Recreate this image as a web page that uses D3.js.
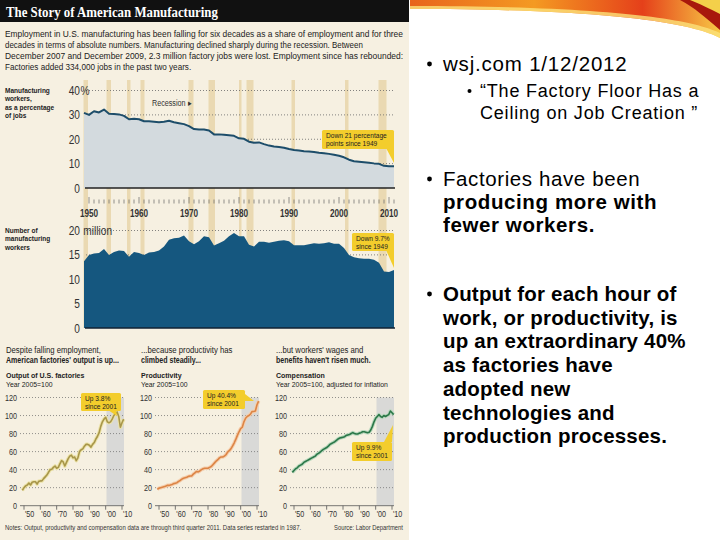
<!DOCTYPE html>
<html>
<head>
<meta charset="utf-8">
<script src="https://cdn.jsdelivr.net/npm/d3@7"></script>
<style>
  body { margin: 0; background: #fff; }
  svg { display: block; }
</style>
</head>
<body>
<svg id="slide" width="720" height="540"></svg>
<script>
// ---- data (yearly, 1949-2011) ----
const years = d3.range(1949, 2012);

const sharePct = [30.8, 30.0, 31.5, 31.0, 32.2, 30.5, 30.4, 30.2, 29.6, 28.2,
    28.4, 28.2, 27.4, 27.4, 27.2, 27.0, 27.2, 27.6, 27.0, 26.6,
    26.2, 25.4, 24.2, 24.0, 24.0, 23.6, 22.0, 22.0, 21.8, 21.6,
    21.4, 20.4, 20.2, 19.0, 18.6, 18.7, 18.0, 17.4, 17.0, 16.8,
    16.5, 16.0, 15.6, 15.4, 15.1, 15.0, 14.8, 14.5, 14.3, 14.0,
    13.6, 13.2, 12.6, 11.6, 11.0, 10.8, 10.6, 10.4, 10.1, 9.9,
    9.1, 8.9, 8.9];

const workersMil = [13.7, 15.0, 15.3, 15.4, 16.2, 15.0, 15.6, 15.9, 15.8, 14.6,
    15.6, 15.4, 15.0, 15.5, 15.6, 15.9, 16.7, 18.1, 18.4, 18.5,
    19.0, 17.8, 17.2, 17.8, 18.8, 18.6, 16.9, 17.4, 17.9, 18.8,
    19.5, 18.8, 18.8, 17.1, 16.7, 17.7, 17.7, 17.5, 17.7, 17.9,
    18.0, 17.8, 17.0, 17.0, 17.0, 17.2, 17.4, 17.3, 17.4, 17.6,
    17.3, 17.3, 16.4, 15.0, 14.5, 14.3, 14.2, 14.2, 14.0, 13.4,
    11.6, 11.5, 11.9];

const outputIdx = [17, 20, 22, 23, 25, 23, 26, 26.5, 26.5, 24,
    27, 27.5, 27.5, 30, 32, 34, 37, 40, 40.5, 42.5,
    44, 41.5, 42.5, 46.5, 50, 48.5, 44, 48, 52, 55,
    56, 53, 54, 50, 53, 60, 62, 63, 66, 68,
    68, 67, 65, 68, 70, 74, 77, 81, 88, 93,
    96, 98, 93, 92, 93, 96, 100, 102, 104, 99,
    87, 92, 96];

const productivityIdx = [18, 19.5, 20, 20.5, 21, 21.5, 22.5, 22.5, 23, 23.5,
    24.5, 25, 25.5, 27, 28, 29.5, 30.5, 31, 31.5, 32.5,
    33, 33, 35, 36.5, 38, 37.5, 38.5, 40, 41, 41.5,
    41.5, 41.5, 42.5, 43.5, 45.5, 47.5, 49.5, 51, 53, 54,
    54, 55, 56.5, 59.5, 61, 63, 66, 69.5, 73.5, 78,
    82, 85.5, 87, 93, 97, 99, 100, 101.5, 104.5, 104.5,
    105, 112, 116];

const compensationIdx = [37, 39, 41, 42, 44, 45, 46, 48, 49, 50,
    51, 52, 53, 54, 55, 57, 58, 59.5, 61, 62.5,
    63.5, 64.5, 66, 68, 69, 70, 71, 72.5, 74, 75,
    75.5, 76, 76.5, 78, 78.5, 79, 80, 81, 80, 79.5,
    79.5, 80.5, 81, 82, 82, 81.5, 81, 81.5, 84, 88,
    93, 97, 99, 101, 99, 98, 100, 99, 100, 101,
    105, 103, 101];

const recessions = [[1948.9, 1949.8], [1953.5, 1954.4], [1957.6, 1958.3], [1960.3, 1961.1],
    [1969.9, 1970.9], [1973.9, 1975.2], [1980.0, 1980.5], [1981.5, 1982.9],
    [1990.5, 1991.2], [2001.2, 2001.9], [2007.9, 2009.5]];

const topTicks = [0, 10, 20, 30, 40];
const midTicks = [0, 5, 10, 15, 20];
const smallTicks = [0, 20, 40, 60, 80, 100, 120];
const decades = [1950, 1960, 1970, 1980, 1990, 2000, 2010];

const introLines = [
    "Employment in U.S. manufacturing has been falling for six decades as a share of employment and for three",
    "decades in terms of absolute numbers. Manufacturing declined sharply during the recession. Between",
    "December 2007 and December 2009, 2.3 million factory jobs were lost. Employment since has rebounded:",
    "Factories added 334,000 jobs in the past two years."
];

const sans = "'Liberation Sans', Arial, sans-serif";
const svg = d3.select("#slide");

// condensed look: Liberation Sans squeezed horizontally
function nt(parent, x, y, str, size, opts) {
    opts = opts || {};
    let k = opts.k || 0.8;
    let t = parent.append("text")
        .attr("transform", "translate(" + x + "," + y + ") scale(" + k + ",1)")
        .attr("font-family", opts.family || sans)
        .attr("font-size", size)
        .attr("font-weight", opts.bold ? "bold" : "normal")
        .attr("text-anchor", opts.anchor || "start")
        .attr("fill", opts.fill || "#222")
        .text(str);
    if (opts.width) {
        // squeeze to a measured width instead of a fixed ratio
        let w = t.node().getComputedTextLength();
        t.attr("transform", "translate(" + x + "," + y + ") scale(" + (opts.width / w) + ",1)");
    }
    return t;
}

// ---- slide background + decoration ----
svg.append("rect").attr("width", 720).attr("height", 540).attr("fill", "#fff");

let defs = svg.append("defs");
let grad = defs.append("linearGradient").attr("id", "swoosh")
    .attr("x1", "0%").attr("x2", "100%").attr("y1", "0%").attr("y2", "0%");
grad.append("stop").attr("offset", "0%").attr("stop-color", "#e8641c");
grad.append("stop").attr("offset", "40%").attr("stop-color", "#f49a22");
grad.append("stop").attr("offset", "75%").attr("stop-color", "#e5401a");
grad.append("stop").attr("offset", "100%").attr("stop-color", "#f7c845");

svg.append("path").attr("d", "M410,0 L720,0 L720,38 C690,22 600,9 410,9 Z").attr("fill", "url(#swoosh)");
svg.append("path").attr("d", "M410,9 C600,9 690,22 720,38 L720,33 C690,18 600,6 410,6 Z").attr("fill", "#fbe27a").attr("opacity", 0.8);
svg.append("path").attr("d", "M680,0 L720,0 L720,30 C705,17 695,8 680,0 Z").attr("fill", "#a8180c");
svg.append("path").attr("d", "M690,0 L720,0 L720,14 C708,8 700,4 690,0 Z").attr("fill", "#f4d04a");

// ---- left graphic panel ----
svg.append("rect").attr("x", 0).attr("y", 0).attr("width", 409).attr("height", 540).attr("fill", "#f6f0e1");
svg.append("rect").attr("x", 0).attr("y", 0).attr("width", 409).attr("height", 22).attr("fill", "#111");
nt(svg, 6, 17, "The Story of American Manufacturing", 14.5,
    { bold: true, fill: "#fff", family: "'Liberation Serif', 'DejaVu Serif', serif", width: 212 });

const introWidths = [398, 358, 398, 186];
let intro = svg.append("g");
introLines.forEach((s, i) => nt(intro, 5, 37 + i * 11, s, 9.8, { width: introWidths[i] }));

// ---- top two charts share the time scale ----
let x = d3.scaleLinear().domain([1949, 2011.2]).range([84, 395]);
let yTop = d3.scaleLinear().domain([0, 40]).range([188, 90.5]);
let yMid = d3.scaleLinear().domain([0, 20]).range([328, 230.5]);

svg.append("g").selectAll("rect").data(recessions).join("rect")
    .attr("x", d => x(d[0])).attr("width", d => x(d[1]) - x(d[0]))
    .attr("y", 80).attr("height", 248)
    .attr("fill", "#ead9b2");

function gridLines(scale, ticks) {
    svg.append("g").selectAll("line").data(ticks.filter(t => t > 0)).join("line")
        .attr("x1", 86).attr("x2", 395)
        .attr("y1", d => scale(d)).attr("y2", d => scale(d))
        .attr("stroke", "#666").attr("stroke-width", 0.8).attr("stroke-dasharray", "1,2");
}
gridLines(yTop, topTicks);
gridLines(yMid, midTicks);

// top: share of jobs
let shareArea = d3.area().x((d, i) => x(years[i])).y0(yTop(0)).y1(d => yTop(d));
let shareLine = d3.line().x((d, i) => x(years[i])).y(d => yTop(d));
svg.append("path").datum(sharePct).attr("d", shareArea).attr("fill", "#d3dade");
svg.append("path").datum(sharePct).attr("d", shareLine)
    .attr("fill", "none").attr("stroke", "#1d4d6a").attr("stroke-width", 2).attr("stroke-linejoin", "round");
svg.append("line").attr("x1", 85).attr("x2", 395).attr("y1", yTop(0)).attr("y2", yTop(0))
    .attr("stroke", "#222").attr("stroke-width", 1.4);

// middle: number of workers
let workArea = d3.area().x((d, i) => x(years[i])).y0(yMid(0)).y1(d => yMid(d));
svg.append("path").datum(workersMil).attr("d", workArea).attr("fill", "#15577f");
svg.append("line").attr("x1", 85).attr("x2", 395).attr("y1", yMid(0)).attr("y2", yMid(0))
    .attr("stroke", "#112233").attr("stroke-width", 1.4);

// y labels
function yLabels(scale, ticks, unit) {
    let g = svg.append("g");
    ticks.forEach(t => {
        nt(g, 80, scale(t) + 4.5, String(t), 13, { anchor: "end", fill: "#333", k: 0.78 });
    });
    nt(g, 80.5, scale(ticks[ticks.length - 1]) + 4.5, unit, 13, { fill: "#333", k: 0.78 });
}
yLabels(yTop, topTicks, "%");
yLabels(yMid, midTicks, "\u00A0million");

// year axis under the top chart
let yearTicks = d3.range(1950, 2012);
svg.append("g").selectAll("line").data(yearTicks).join("line")
    .attr("x1", d => x(d)).attr("x2", d => x(d))
    .attr("y1", d => d % 10 === 0 ? 197 : 199.5).attr("y2", 203.5)
    .attr("stroke", "#666").attr("stroke-width", 0.7);
let axisLabels = svg.append("g");
decades.forEach(d => nt(axisLabels, x(d), 216.5, String(d), 10, { anchor: "middle", bold: true, fill: "#333", k: 0.82 }));

// side labels
function sideLabel(lines, y0) {
    let g = svg.append("g");
    lines.forEach((s, i) => nt(g, 5, y0 + i * 8.3, s, 7.4, { bold: true, k: 0.88 }));
}
sideLabel(["Manufacturing", "workers,", "as a percentage", "of jobs"], 93);
sideLabel(["Number of", "manufacturing", "workers"], 233);

nt(svg, 152, 106, "Recession \u25B8", 9, { fill: "#333", k: 0.8 });

// yellow callouts
function callout(bx, by, bw, bh, tail, lines) {
    svg.append("path").attr("d", tail).attr("fill", "#f3cd2c");
    svg.append("rect").attr("x", bx).attr("y", by).attr("width", bw).attr("height", bh)
        .attr("rx", 1.5).attr("fill", "#f3cd2c");
    let g = svg.append("g");
    lines.forEach((s, i) => nt(g, bx + 4, by + 8 + i * 8.4, s, 7.5, { k: 0.88 }));
}
callout(322, 130, 72, 19, "M386,148 L394,148 L394,163 Z", ["Down 21 percentage", "points since 1949"]);
callout(352, 233, 42, 18, "M386,250 L394,250 L394,268 Z", ["Down 9.7%", "since 1949"]);

// ---- three small charts ----
function smallChart(ox, values, color, halo, head1, head2, title, sub, note, noteBox) {
    let xs = d3.scaleLinear().domain([1950, 2010]).range([ox + 24, ox + 122]);
    let ys = d3.scaleLinear().domain([0, 120]).range([505.7, 397.5]);
    let g = svg.append("g");

    g.append("rect").attr("x", xs(2000.5)).attr("y", ys(120)).attr("width", ox + 124 - xs(2000.5))
        .attr("height", ys(0) - ys(120)).attr("fill", "#d9d9d7");

    g.append("g").selectAll("line").data(smallTicks.filter(t => t > 0)).join("line")
        .attr("x1", ox + 20).attr("x2", ox + 124)
        .attr("y1", d => ys(d)).attr("y2", d => ys(d))
        .attr("stroke", "#666").attr("stroke-width", 0.7).attr("stroke-dasharray", "1,2");

    smallTicks.forEach(t => nt(g, ox + 17, ys(t) + 3, String(t), 9, { anchor: "end", fill: "#333", k: 0.8 }));

    g.append("line").attr("x1", ox + 20).attr("x2", ox + 124).attr("y1", ys(0)).attr("y2", ys(0))
        .attr("stroke", "#555").attr("stroke-width", 0.8);
    g.append("g").selectAll("line").data(decades).join("line")
        .attr("x1", d => xs(d)).attr("x2", d => xs(d)).attr("y1", ys(0)).attr("y2", ys(0) + 4)
        .attr("stroke", "#555").attr("stroke-width", 0.8);
    decades.forEach(d => nt(g, xs(d) + 1, 517, "'" + String(d).slice(2), 9, { fill: "#333", k: 0.8 }));

    let line = d3.line().x((d, i) => xs(years[i])).y(d => ys(d));
    g.append("path").datum(values).attr("d", line).attr("fill", "none")
        .attr("stroke", halo).attr("stroke-width", 3.6).attr("stroke-linejoin", "round");
    g.append("path").datum(values).attr("d", line).attr("fill", "none")
        .attr("stroke", color).attr("stroke-width", 1.6).attr("stroke-linejoin", "round");

    nt(g, ox + 6, 353, head1, 8.8, { k: 0.88 });
    nt(g, ox + 6, 363, head2, 8.8, { bold: true, k: 0.8 });
    nt(g, ox + 6, 377.5, title, 8, { bold: true, k: 0.88 });
    nt(g, ox + 6, 386.5, sub, 8, { k: 0.86 });

    callout(noteBox[0], noteBox[1], noteBox[2], noteBox[3], noteBox[4], note);
}

smallChart(0, outputIdx, "#a8964a", "#ece3a8",
    "Despite falling employment,", "American factories' output is up...",
    "Output of U.S. factories", "Year 2005=100",
    ["Up 3.8%", "since 2001"], [81, 393, 40, 18, "M108,410 L116,410 L117,416 Z"]);
smallChart(135, productivityIdx, "#dc8546", "#f5cfae",
    "...because productivity has", "climbed steadily...",
    "Productivity", "Year 2005=100",
    ["Up 40.4%", "since 2001"], [203, 390, 42, 19, "M245,394 L245,401 L254,401 Z"]);
smallChart(270, compensationIdx, "#2b7748", "#b9d8bd",
    "...but workers' wages and", "benefits haven't risen much.",
    "Compensation", "Year 2005=100, adjusted for inflation",
    ["Up 9.9%", "since 2001"], [352, 442, 40, 19, "M384,442 L392,442 L393,425 Z"]);

let foot = svg.append("g");
nt(foot, 5, 530, "Notes: Output, productivity and compensation data are through third quarter 2011. Data series restarted in 1987.",
    7, { fill: "#333", width: 296 });
nt(foot, 334, 530, "Source: Labor Department", 7, { fill: "#333", width: 69 });

// ---- slide text on the right ----
let body = svg.append("g").attr("font-family", sans).attr("fill", "#000");
function bullet(cx, cy, r) {
    body.append("circle").attr("cx", cx).attr("cy", cy).attr("r", r).attr("fill", "#000");
}
function slideLine(bx, by, str, size, spacing, bold) {
    body.append("text").attr("x", bx).attr("y", by).attr("font-size", size)
        .attr("letter-spacing", spacing).attr("font-weight", bold ? "bold" : "normal").text(str);
}
bullet(429.5, 64, 2.4);
slideLine(443, 71, "wsj.com 1/12/2012", 20.5, 0.8);
bullet(469.5, 91, 2);
slideLine(480, 97, "\u201CThe Factory Floor Has a", 18, 0.8);
slideLine(480, 119, "Ceiling on Job Creation \u201D", 18, 0.8);

bullet(429.5, 179, 2.4);
slideLine(443, 186, "Factories have been", 20.5, 0.6);
slideLine(443, 209, "producing more with", 20.5, 0.6, true);
slideLine(443, 232, "fewer workers.", 20.5, 0.6, true);

const outputLines = ["Output for each hour of", "work, or productivity, is", "up an extraordinary 40%",
    "as factories have", "adopted new", "technologies and", "production processes."];
bullet(429.5, 294, 2.4);
outputLines.forEach((s, i) => slideLine(443, 301 + i * 23.7, s, 20.5, 0.2, true));
</script>
</body>
</html>
